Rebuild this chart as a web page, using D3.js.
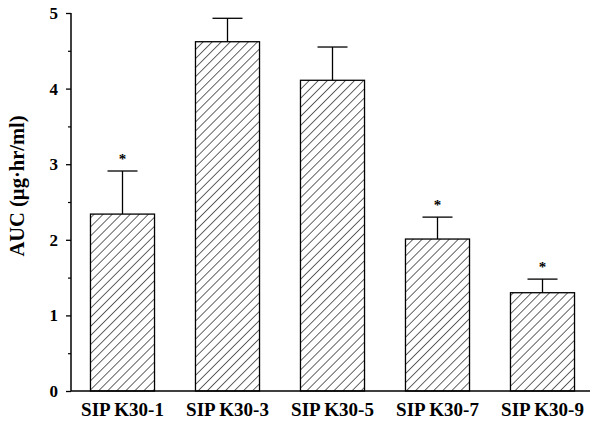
<!DOCTYPE html>
<html>
<head>
<meta charset="utf-8">
<script src="https://cdn.jsdelivr.net/npm/d3@7"></script>
<style>
  html, body { margin: 0; padding: 0; background: #fff; }
  svg { display: block; }
  text { font-family: "Liberation Serif", "Times New Roman", serif; font-weight: bold; fill: #000; }
</style>
</head>
<body>
<svg id="chart" width="595" height="421"></svg>
<script>
const categories = ["SIP K30-1", "SIP K30-3", "SIP K30-5", "SIP K30-7", "SIP K30-9"];
const means = [2.34, 4.62, 4.11, 2.01, 1.30];
const errors = [0.57, 0.31, 0.44, 0.29, 0.18];
const significant = [true, false, false, true, true];
const yTicks = [0, 1, 2, 3, 4, 5];
const yMinorTicks = [0.5, 1.5, 2.5, 3.5, 4.5];
const yLabel = "AUC (µg·hr/ml)";

const svg = d3.select("#chart");

const y = d3.scaleLinear().domain([0, 5]).range([391, 13]);
const x = d3.scaleBand().domain(categories).range([70, 595]).paddingInner(0.39).paddingOuter(0.195);

// hatch pattern
const defs = svg.append("defs");
const pat = defs.append("pattern")
  .attr("id", "hatch")
  .attr("patternUnits", "userSpaceOnUse")
  .attr("width", 6.4).attr("height", 6.4)
  .attr("patternTransform", "rotate(45)");
pat.append("rect").attr("width", 6.4).attr("height", 6.4).attr("fill", "#fff");
pat.append("line").attr("x1", 0).attr("y1", 0).attr("x2", 0).attr("y2", 6.4)
  .attr("stroke", "#000").attr("stroke-width", 1.2);

const data = categories.map((c, i) => ({ c, m: means[i], e: errors[i], s: significant[i] }));

// error bars (upper only)
const eb = svg.append("g");
eb.selectAll("line.v").data(data).enter().append("line")
  .attr("x1", d => x(d.c) + x.bandwidth() / 2)
  .attr("x2", d => x(d.c) + x.bandwidth() / 2)
  .attr("y1", d => y(d.m)).attr("y2", d => y(d.m + d.e))
  .attr("stroke", "#000").attr("stroke-width", 1.3);
eb.selectAll("line.c").data(data).enter().append("line")
  .attr("x1", d => x(d.c) + x.bandwidth() / 2 - 15)
  .attr("x2", d => x(d.c) + x.bandwidth() / 2 + 15)
  .attr("y1", d => y(d.m + d.e)).attr("y2", d => y(d.m + d.e))
  .attr("stroke", "#000").attr("stroke-width", 1.3);

// bars
svg.append("g").selectAll("rect").data(data).enter().append("rect")
  .attr("x", d => x(d.c))
  .attr("width", x.bandwidth())
  .attr("y", d => y(d.m))
  .attr("height", d => y(0) - y(d.m))
  .attr("fill", "url(#hatch)")
  .attr("stroke", "#000").attr("stroke-width", 1.3);

// significance stars
svg.append("g").selectAll("text").data(data.filter(d => d.s)).enter().append("text")
  .attr("x", d => x(d.c) + x.bandwidth() / 2)
  .attr("y", d => y(d.m + d.e) - 7)
  .attr("text-anchor", "middle")
  .style("font-size", "15px")
  .text("*");

// y axis
const yAxis = d3.axisLeft(y).tickValues(yTicks).tickSize(5).tickPadding(8).tickFormat(d3.format("d"));
const gy = svg.append("g").attr("transform", "translate(71,0)").call(yAxis);
gy.select(".domain").attr("stroke-width", 1.5).attr("d", "M0," + y(5) + "V" + y(0));
gy.selectAll(".tick line").attr("stroke-width", 1.3);
gy.selectAll(".tick text").style("font-size", "17px").style("font-family", "Liberation Serif, serif").style("font-weight", "bold");
const gyMinor = svg.append("g").attr("transform", "translate(71,0)")
  .call(d3.axisLeft(y).tickValues(yMinorTicks).tickSize(3).tickFormat(""));
gyMinor.select(".domain").remove();
gyMinor.selectAll(".tick line").attr("stroke-width", 1.2);

// x axis baseline
const xAxis = d3.axisBottom(x).tickSize(0).tickPadding(12);
const gx = svg.append("g").attr("transform", "translate(0," + y(0) + ")").call(xAxis);
gx.select(".domain").attr("d", "M71,0H590").attr("stroke-width", 1.5);
gx.selectAll(".tick text").style("font-size", "19px").style("font-family", "Liberation Serif, serif").style("font-weight", "bold");

// y label
svg.append("text")
  .attr("transform", "translate(24,186) rotate(-90)")
  .attr("text-anchor", "middle")
  .style("font-size", "20.5px")
  .text(yLabel);
</script>
</body>
</html>
